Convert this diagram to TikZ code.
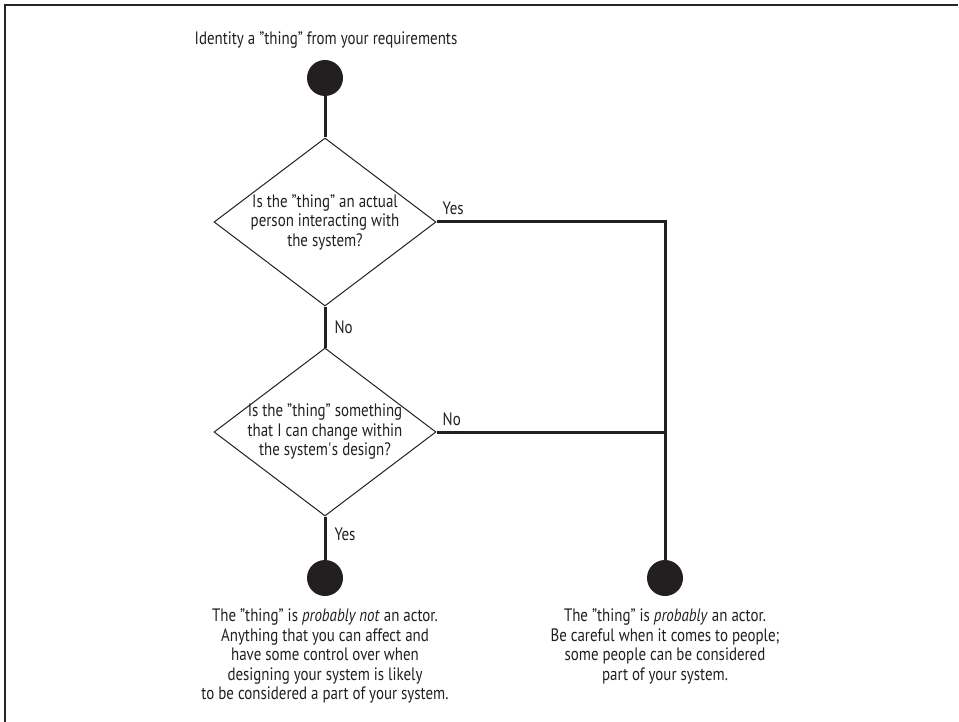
\documentclass[tikz,border=0pt]{standalone}
\usepackage{fontspec}
\setmainfont{PT Sans}[FakeStretch=0.83]
\usetikzlibrary{shapes.geometric}
\usetikzlibrary{positioning}
\definecolor{ink}{HTML}{231F20}
\tikzset{
  txt/.style={font=\fontsize{18}{19.5}\selectfont, text=ink, inner sep=0pt},
  dot/.style={circle, fill=ink, minimum size=36pt, inner sep=0pt},
  question/.style={txt, diamond, draw=ink, line width=1pt, aspect=1.32,
    inner xsep=-5pt, minimum width=222pt, minimum height=168pt, align=center},
  flow/.style={draw=ink, line width=3pt},
  frame/.style={draw=black!85, line width=1.5pt}
}
\begin{document}
\begin{tikzpicture}[x=1pt,y=-1pt]
\useasboundingbox (0,0) rectangle (959,722);
\draw[frame] (5,722) -- (5,5) -- (958,5);
\node[txt, anchor=base] (title) at (326,45) {Identity a "thing" from your requirements};
\node[dot] (start) at (325,78) {};
\node[question] (q1) at (325,222) {Is the "thing" an actual\\person interacting with\\the system?};
\node[question] (q2) at (325,432) {Is the "thing" something\\that I can change within\\the system\textquotesingle s design?};
\node[dot] (notactor) at (325,578) {};
\node[dot] (actor) at (665,578) {};
\node[txt, align=center, anchor=north] (notactortxt) at (325,609)
  {The "thing" is \textit{probably not} an actor.\\Anything that you can affect and\\have some control over when\\designing your system is likely\\to be considered a part of your system.};
\node[txt, align=center, anchor=north] (actortxt) at (665,609)
  {The "thing" is \textit{probably} an actor.\\Be careful when it comes to people;\\some people can be considered\\part of your system.};
\coordinate (join) at (q2.east -| actor);
\draw[flow] (start) -- (q1.north);
\draw[flow] (q1.south) -- node[txt, right=8pt] {No} (q2.north);
\draw[flow] (q1.east) -| (actor.north);
\draw[flow] (q2.east) -- (join);
\draw[flow] (q2.south) -- node[txt, right=8pt, pos=0.4] {Yes} (notactor.north);
\node[txt, anchor=base west] (yes1) at ([xshift=6pt,yshift=7pt]q1.east) {Yes};
\node[txt, anchor=base west] (no2) at ([xshift=6pt,yshift=7pt]q2.east) {No};
\end{tikzpicture}
\end{document}
